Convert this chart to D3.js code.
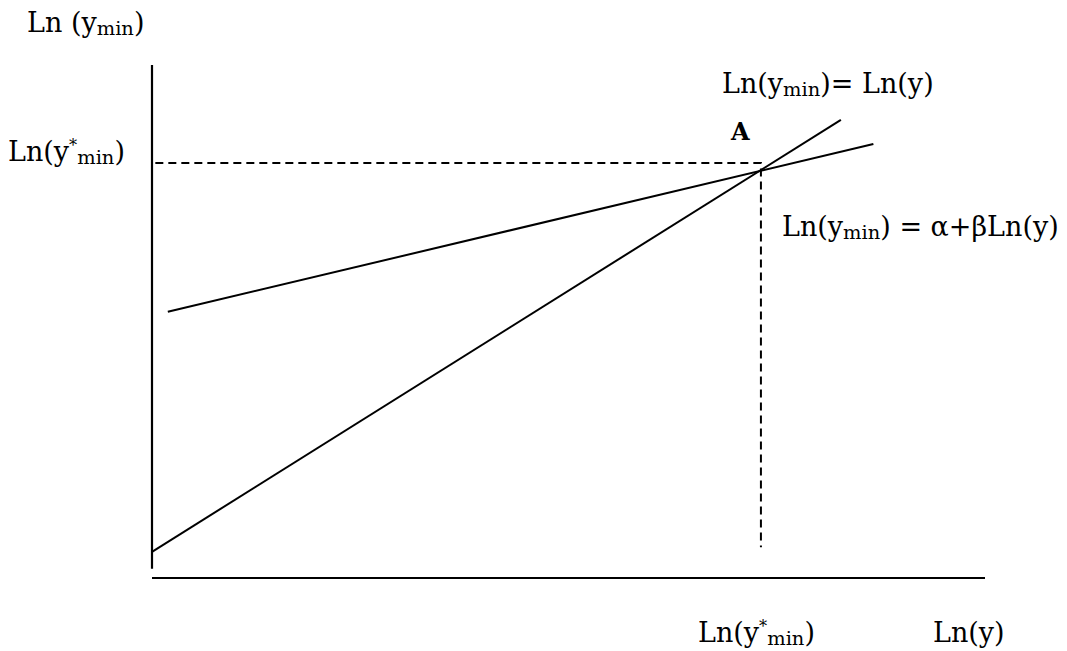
<!DOCTYPE html>
<html>
<head>
<meta charset="utf-8">
<script src="https://cdnjs.cloudflare.com/ajax/libs/d3/7.8.5/d3.min.js"></script>
<style>
  body { margin: 0; background: #fff; }
  svg text { font-family: "DejaVu Serif", "Liberation Serif", serif; fill: #000; }
</style>
</head>
<body>
<div id="chart"></div>
<script>
// diagram values, in abstract axis units (0..10 on both axes)
var identityLine = [{x: 0, y: 0.51}, {x: 8.27, y: 8.93}];
var fitLine = [{x: 0.19, y: 5.19}, {x: 8.66, y: 8.46}];
var pointA = {x: 7.31, y: 8.09};
var dashStartX = 0.04;
var dashEndY = 0.60;
var yAxisRange = [0.18, 10];
var xAxisRange = [0, 10];

var width = 1067, height = 651;
var svg = d3.select('#chart').append('svg')
  .attr('width', width)
  .attr('height', height);

var x = d3.scaleLinear().domain([0, 10]).range([152, 985]);
var y = d3.scaleLinear().domain([0, 10]).range([578, 65]);

var line = d3.line().x(function(d) { return x(d.x); }).y(function(d) { return y(d.y); });

// axes (plain lines, no ticks)
svg.append('path')
  .attr('d', line([{x: 0, y: yAxisRange[0]}, {x: 0, y: yAxisRange[1]}]))
  .attr('stroke', '#000').attr('stroke-width', 2.2).attr('fill', 'none');
svg.append('path')
  .attr('d', line([{x: xAxisRange[0], y: 0}, {x: xAxisRange[1], y: 0}]))
  .attr('stroke', '#000').attr('stroke-width', 2.2).attr('fill', 'none');

// dashed guides to point A
svg.append('path')
  .attr('d', line([{x: dashStartX, y: pointA.y}, pointA, {x: pointA.x, y: dashEndY}]))
  .attr('stroke', '#000').attr('stroke-width', 2).attr('fill', 'none')
  .attr('stroke-dasharray', '8,5');

// the two lines
[identityLine, fitLine].forEach(function(d) {
  svg.append('path')
    .attr('d', line(d))
    .attr('stroke', '#000').attr('stroke-width', 2).attr('fill', 'none');
});

// labels: each part is [text, size factor, dy]
function label(px, py, parts, size, weight) {
  var t = svg.append('text')
    .attr('x', px).attr('y', py)
    .style('font-size', size + 'px')
    .style('font-weight', weight || 'normal');
  parts.forEach(function(p) {
    t.append('tspan').text(p[0])
      .style('font-size', (size * (p[1] || 1)) + 'px')
      .attr('dy', p[2] || 0);
  });
  return t;
}

label(27, 32, [['Ln (y'], ['min', 0.72, 3], [')', 1, -3]], 27);
label(8, 161, [['Ln(y'], ['*', 0.6, -10], ['min', 0.72, 13], [')', 1, -3]], 27);
label(722, 93, [['Ln(y'], ['min', 0.72, 3], [')= Ln(y)', 1, -3]], 27);
label(731, 140, [['A']], 24, 'bold');
label(782, 236, [['Ln(y'], ['min', 0.72, 3], [') = \u03b1+\u03b2Ln(y)', 1, -3]], 27);
label(698, 642, [['Ln(y'], ['*', 0.6, -10], ['min', 0.72, 13], [')', 1, -3]], 27);
label(933, 642, [['Ln(y)']], 27);
</script>
</body>
</html>
